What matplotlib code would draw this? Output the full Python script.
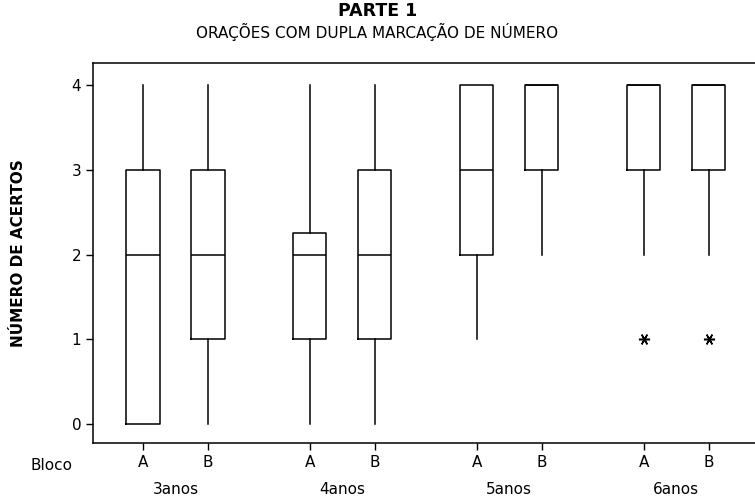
import matplotlib
matplotlib.use('Agg')
import matplotlib.pyplot as plt
import matplotlib.transforms as mtransforms

grupos = ['3anos', '4anos', '5anos', '6anos']
blocos = ['A', 'B']

# um valor por caixa: 3A, 3B, 4A, 4B, 5A, 5B, 6A, 6B
whislo = [0, 0, 0, 0, 1, 2, 2, 2]
q1 = [0, 1, 1, 1, 2, 3, 3, 3]
med = [2, 2, 2, 2, 3, 4, 4, 4]
q3 = [3, 3, 2.25, 3, 4, 4, 4, 4]
whishi = [4, 4, 4, 4, 4, 4, 4, 4]
fliers = [[], [], [], [], [], [], [1], [1]]

plt.rcParams['font.family'] = ['DejaVu Sans']

fig = plt.figure(figsize=(7.55, 5.0), dpi=100)
ax = fig.add_axes([0.1232, 0.114, 0.8768, 0.76])

stats = []
for i in range(len(med)):
    stats.append(dict(whislo=whislo[i], q1=q1[i], med=med[i], q3=q3[i],
                      whishi=whishi[i], fliers=fliers[i]))

pos = []
for g in range(len(grupos)):
    for b in range(len(blocos)):
        pos.append(1 + g * 2.567 + b)

ax.bxp(stats, positions=pos, widths=0.51, showcaps=False,
       boxprops=dict(color='black', lw=1.1),
       whiskerprops=dict(color='black', lw=1.1),
       medianprops=dict(color='black', lw=1.1),
       flierprops=dict(marker=(6, 2, 90), markersize=8, markeredgecolor='black',
                       markerfacecolor='black', markeredgewidth=1.1))

ax.set_xlim(0.23, 10.415)
ax.set_ylim(-0.224, 4.26)
ax.set_yticks([0, 1, 2, 3, 4])
ax.set_xticks(pos)
ax.set_xticklabels(blocos * len(grupos))
ax.tick_params(labelsize=11, length=5, width=1, color='black')
ax.spines['right'].set_visible(False)
for s in ['left', 'top', 'bottom']:
    ax.spines[s].set_linewidth(1.1)

trans = mtransforms.blended_transform_factory(ax.transData, fig.transFigure)
for g, nome in enumerate(grupos):
    ax.text((pos[2 * g] + pos[2 * g + 1]) / 2, 1 - 489 / 500, nome, transform=trans,
            ha='center', va='center', fontsize=11)
fig.text(52 / 755, 1 - 465 / 500, 'Bloco', ha='center', va='center', fontsize=11)

ax.set_ylabel('NÚMERO DE ACERTOS', fontsize=11, fontweight='bold', labelpad=33)
fig.text(0.5, 1 - 11 / 500, 'PARTE 1', ha='center', va='center', fontsize=12.5, fontweight='bold')
fig.text(0.5, 1 - 32 / 500, 'ORAÇÕES COM DUPLA MARCAÇÃO DE NÚMERO', ha='center', va='center', fontsize=11)

fig.savefig('out.png', dpi=100)
